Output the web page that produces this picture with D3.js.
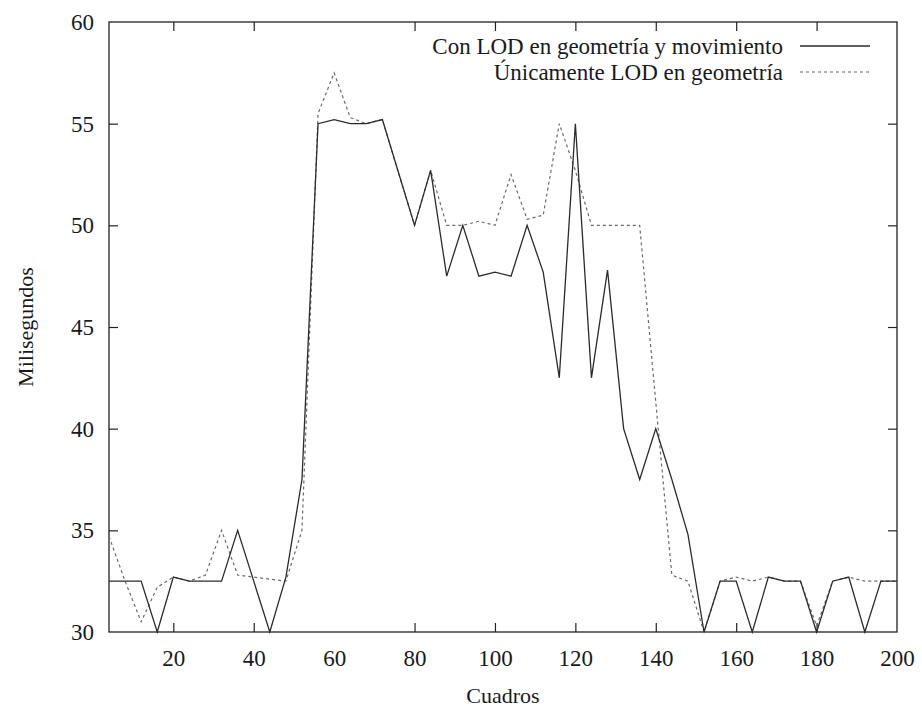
<!DOCTYPE html>
<html>
<head>
<meta charset="utf-8">
<script src="https://cdn.jsdelivr.net/npm/d3@7"></script>
<style>
  html, body { margin: 0; padding: 0; background: #fff; }
  svg text { font-family: "Liberation Serif", "DejaVu Serif", serif; fill: #1a1a1a; }
</style>
</head>
<body>
<div id="chart"></div>
<script>
// Frames (x values), sampled every 4 frames
const cuadros = [4, 8, 12, 16, 20, 24, 28, 32, 36, 40, 44, 48, 52, 56, 60, 64, 68, 72, 76, 80,
  84, 88, 92, 96, 100, 104, 108, 112, 116, 120, 124, 128, 132, 136, 140, 144, 148, 152, 156, 160,
  164, 168, 172, 176, 180, 184, 188, 192, 196, 200];

// Con LOD en geometría y movimiento (solid)
const conMovimiento = [32.5, 32.5, 32.5, 30, 32.7, 32.5, 32.5, 32.5, 35, 32.5, 30, 32.7, 37.5, 55, 55.2, 55, 55, 55.2, 52.6, 50,
  52.7, 47.5, 50, 47.5, 47.7, 47.5, 50, 47.7, 42.5, 55, 42.5, 47.8, 40, 37.5, 40, 37.5, 34.8, 30, 32.5, 32.5,
  30, 32.7, 32.5, 32.5, 30, 32.5, 32.7, 30, 32.5, 32.5];

// Únicamente LOD en geometría (dashed)
const soloGeometria = [34.7, 32.5, 30.5, 32.2, 32.7, 32.5, 32.8, 35, 32.8, 32.7, 32.6, 32.5, 35, 55.5, 57.5, 55.3, 55, 55.2, 52.6, 50,
  52.7, 50, 50, 50.2, 50, 52.5, 50.3, 50.5, 55, 52.7, 50, 50, 50, 50, 41.3, 32.8, 32.5, 30, 32.5, 32.7,
  32.5, 32.7, 32.5, 32.5, 30.3, 32.5, 32.7, 32.5, 32.5, 32.5];

const xTicks = [20, 40, 60, 80, 100, 120, 140, 160, 180, 200];
const yTicks = [30, 35, 40, 45, 50, 55, 60];

const series = [
  { name: 'Con LOD en geometría y movimiento', values: conMovimiento, stroke: '#2b2b2b', dash: null, width: 1.3 },
  { name: 'Únicamente LOD en geometría', values: soloGeometria, stroke: '#6a6a6a', dash: '3,3', width: 1.2 }
];

const W = 922, H = 708;
const margin = { top: 22, right: 25, bottom: 76, left: 109 };
const iw = W - margin.left - margin.right;
const ih = H - margin.top - margin.bottom;
const FS = 23;

const svg = d3.select('#chart').append('svg')
  .attr('width', W).attr('height', H);

const g = svg.append('g')
  .attr('transform', 'translate(' + margin.left + ',' + margin.top + ')');

const x = d3.scaleLinear().domain([4, 200]).range([0, iw]);
const y = d3.scaleLinear().domain([30, 60]).range([ih, 0]);

// axes: labels on bottom/left, mirrored ticks on top/right
const tickLen = 9;
const axisBottom = d3.axisBottom(x).tickValues(xTicks).tickSize(-tickLen).tickPadding(18).tickFormat(d3.format('d'));
const axisTop = d3.axisTop(x).tickValues(xTicks).tickSize(-tickLen).tickFormat('');
const axisLeft = d3.axisLeft(y).tickValues(yTicks).tickSize(-tickLen).tickPadding(15).tickFormat(d3.format('d'));
const axisRight = d3.axisRight(y).tickValues(yTicks).tickSize(-tickLen).tickFormat('');

function styleAxis(sel) {
  sel.select('.domain').remove();
  sel.selectAll('.tick line').attr('stroke', '#222').attr('stroke-width', 1.2);
  sel.selectAll('.tick text').attr('font-size', FS).attr('font-family', '"Liberation Serif", serif').attr('fill', '#1a1a1a');
}

g.append('g').attr('transform', 'translate(0,' + ih + ')').call(axisBottom).call(styleAxis);
g.append('g').call(axisTop).call(styleAxis);
g.append('g').call(axisLeft).call(styleAxis);
g.append('g').attr('transform', 'translate(' + iw + ',0)').call(axisRight).call(styleAxis);

// 30/60/200 ticks sit on the frame itself
g.selectAll('.tick').filter(function (d) { return d === 30 || d === 60 || d === 200; })
  .select('line').remove();

// frame
g.append('rect')
  .attr('width', iw).attr('height', ih)
  .attr('fill', 'none').attr('stroke', '#222').attr('stroke-width', 1.3);

// lines
const line = d3.line()
  .x(function (d, i) { return x(cuadros[i]); })
  .y(function (d) { return y(d); });

series.slice().reverse().forEach(function (s) {
  g.append('path')
    .datum(s.values)
    .attr('fill', 'none')
    .attr('stroke', s.stroke)
    .attr('stroke-width', s.width)
    .attr('stroke-dasharray', s.dash)
    .attr('stroke-linejoin', 'miter')
    .attr('d', line);
});

// legend (top right, inside frame)
const legend = g.append('g').attr('transform', 'translate(' + (iw - 27) + ',0)');
series.forEach(function (s, i) {
  const ly = 24 + i * 26;
  legend.append('line')
    .attr('x1', -70).attr('x2', 0).attr('y1', ly).attr('y2', ly)
    .attr('stroke', s.stroke).attr('stroke-width', s.width)
    .attr('stroke-dasharray', s.dash);
  legend.append('text')
    .attr('x', -87).attr('y', ly)
    .attr('dy', '0.33em')
    .attr('text-anchor', 'end')
    .attr('font-size', FS)
    .text(s.name);
});

// axis titles
svg.append('text')
  .attr('x', margin.left + iw / 2).attr('y', H - 5)
  .attr('text-anchor', 'middle')
  .attr('font-size', FS - 1)
  .text('Cuadros');

svg.append('text')
  .attr('transform', 'translate(33,' + (margin.top + ih / 2) + ') rotate(-90)')
  .attr('text-anchor', 'middle')
  .attr('font-size', FS - 1)
  .text('Milisegundos');
</script>
</body>
</html>
